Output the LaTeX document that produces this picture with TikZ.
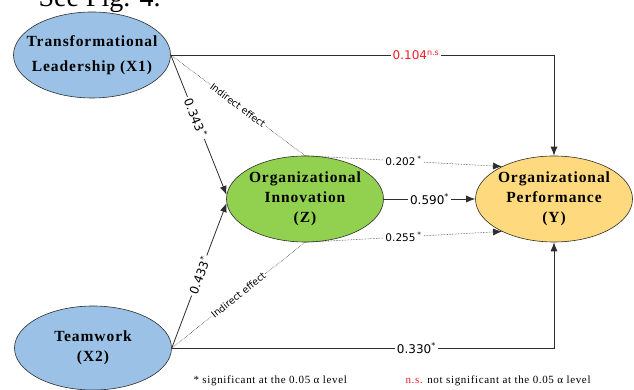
\documentclass[tikz,border=0pt]{standalone}
\usepackage{fontspec}
\setmainfont{Liberation Serif}
\newfontfamily\labelfont{DejaVu Sans}
\newfontfamily\nodefont[LetterSpace=6]{Liberation Serif}
\usetikzlibrary{arrows.meta,positioning,calc,shapes.geometric}
\definecolor{SEM-BLUE}{RGB}{155, 194, 230}
\definecolor{SEM-GREEN}{RGB}{146, 208, 80}
\definecolor{SEM-ORANGE}{RGB}{255, 217, 125}
\definecolor{SEM-RED}{RGB}{240, 30, 40}
\definecolor{SEM-LINE}{RGB}{45, 45, 45}

\begin{document}
\begin{tikzpicture}[x=1pt,y=1pt,
  construct/.style={ellipse, draw=SEM-LINE, line width=0.6pt,
    minimum width=157pt, minimum height=86pt, inner sep=0pt},
  name text/.style={font=\nodefont\fontsize{15.5}{20}\selectfont\bfseries,
    align=center, text=black},
  coef/.style={font=\labelfont\fontsize{12}{14}\selectfont, fill=white, inner sep=2pt},
  small coef/.style={coef, font=\labelfont\fontsize{10.5}{12}\selectfont},
  effect/.style={font=\labelfont\fontsize{9.5}{11}\selectfont, fill=white,
    inner sep=1pt, sloped},
  direct line/.style={draw=SEM-LINE, line width=0.8pt},
  indirect line/.style={draw=SEM-LINE, line width=0.55pt, densely dotted},
  >={Latex[length=9pt,width=7pt]}]
  \useasboundingbox (0,0) rectangle (634,390);

  % Caption line cut off at the top
  \node[anchor=base west, font=\fontsize{28}{30}\selectfont] (fig-ref) at (35,383) {See Fig. 4.};

  % Constructs
  \node[construct, fill=SEM-BLUE] (X1) at (92,335) {};
  \node[name text] (X1-text) at (X1) {Transformational\\[5pt]Leadership (X1)};

  \node[construct, fill=SEM-BLUE, minimum height=84pt] (X2) at (93,42) {};
  \node[name text] (X2-text) at (X2) {Teamwork\\(X2)};

  \node[construct, fill=SEM-GREEN] (Z) at (305,191) {};
  \node[name text] (Z-text) at (Z) {Organizational\\Innovation\\(Z)};

  \node[construct, fill=SEM-ORANGE] (Y) at (554,191) {};
  \node[name text] (Y-text) at (Y) {Organizational\\Performance\\(Y)};

  % Direct effects
  \draw[direct line, ->] (X1.east) -| node[pos=0.32, coef, text=SEM-RED] (c-x1y)
    {0.104\textsuperscript{n.s}} (Y.north);
  \draw[direct line, ->] (X2.east) -| node[pos=0.32, coef] (c-x2y)
    {0.330\textsuperscript{*}} (Y.south);
  \draw[direct line, ->] (X1.east) -- node[pos=0.45, coef, sloped] (c-x1z)
    {0.343\,\textsuperscript{*}} (Z.177);
  \draw[direct line, ->] (X2.east) -- node[pos=0.5, coef, sloped] (c-x2z)
    {0.433\textsuperscript{*}} (Z.183);
  \draw[direct line, ->] (Z.east) -- node[coef] (c-zy) {0.590\textsuperscript{*}} (Y.west);

  % Indirect effects
  \draw[indirect line] (X1.east) -- node[effect] (ie-x1) {Indirect effect} (Z.north);
  \draw[indirect line, ->] (Z.north) -- node[small coef] (c-ie1)
    {0.202\,\textsuperscript{*}} (Y.148);
  \draw[indirect line] (X2.east) -- node[effect] (ie-x2) {Indirect effect} (Z.south);
  \draw[indirect line, ->] (Z.south) -- node[small coef] (c-ie2)
    {0.255\,\textsuperscript{*}} (Y.212);

  % Notes
  \node[anchor=base west, font=\nodefont\fontsize{11}{13}\selectfont] (note-sig) at (190,6)
    {* significant at the 0.05 α level};
  \node[anchor=base west, font=\nodefont\fontsize{11}{13}\selectfont] (note-ns) at (402,6)
    {\textcolor{SEM-RED}{n.s.} not significant at the 0.05 α level};
\end{tikzpicture}
\end{document}
